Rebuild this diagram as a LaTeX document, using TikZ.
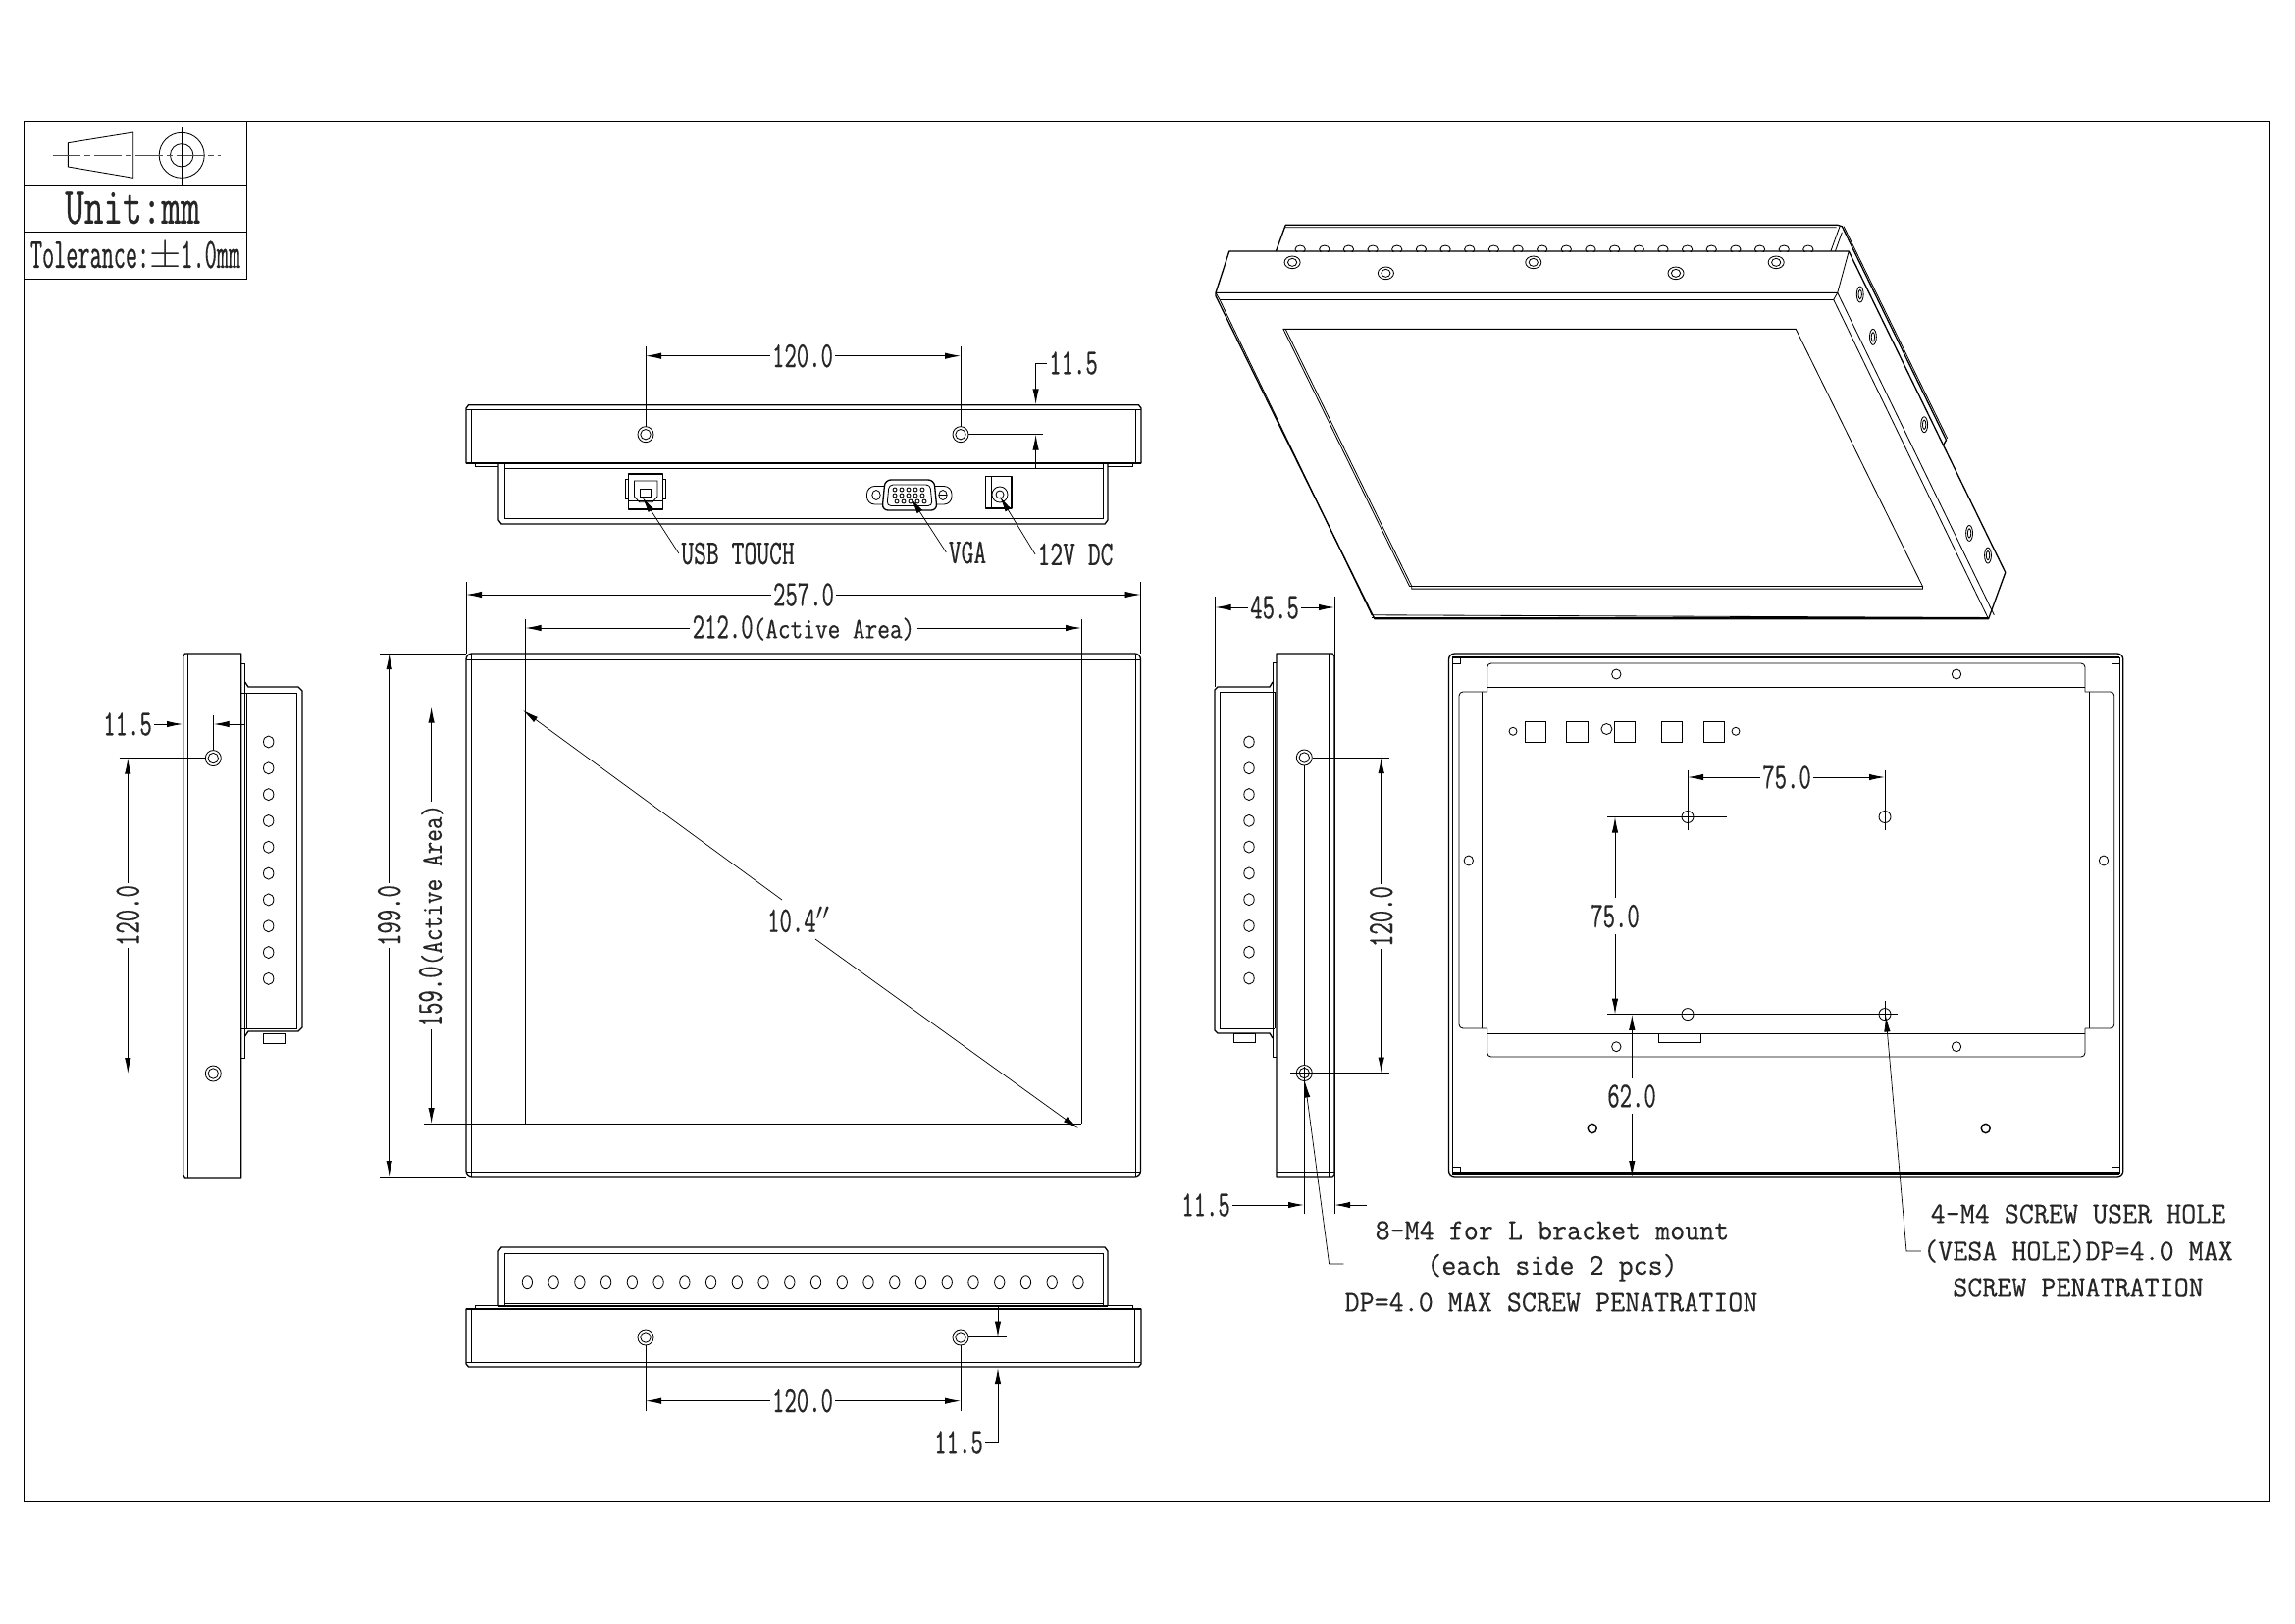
\documentclass[tikz,border=0pt]{standalone}
\usepackage{fontspec}
\usetikzlibrary{arrows.meta}
\newfontfamily\cfa[FakeStretch=.65,FakeBold=.35]{Latin Modern Mono}
\newfontfamily\cfb[FakeStretch=.82,FakeBold=.25]{Latin Modern Mono}
\newfontfamily\cfc[FakeStretch=.96,FakeBold=.25]{Latin Modern Mono}
\newfontfamily\cfd[FakeStretch=.72,FakeBold=.35]{Latin Modern Mono}
\newfontfamily\cfe[FakeStretch=.535,FakeBold=.35]{Latin Modern Mono}
\newfontfamily\cfu[FakeStretch=.70,FakeBold=.35]{Latin Modern Mono}
\newcommand\lbl{\cfa\fontsize{18.5}{20}\selectfont}
\newcommand\lblact{\cfb\fontsize{15}{18}\selectfont}
\newcommand\note{\cfc\fontsize{15.2}{16}\selectfont}
\newcommand\usb{\cfu\fontsize{17.8}{20}\selectfont}
\tikzset{
  ol/.style={draw=black,line width=.65pt,line join=round},
  tl/.style={draw=black,line width=.42pt},
  thick line/.style={draw=black,line width=1.3pt},
  dimline/.style={draw=black,line width=.45pt,-{Latex[length=8pt,width=3.2pt]}},
  extl/.style={draw=black,line width=.4pt},
  lab/.style={inner sep=1pt,text=black!85},
  cline/.style={draw=black!70,line width=.4pt,dash pattern=on 14pt off 2pt on 3pt off 2pt}
}
% name,x1,x2,y,xc,text
\newcommand\hdim[6]{%
  \coordinate (#1a) at (#2,#4); \coordinate (#1b) at (#3,#4);
  \node[lab] (#1) at (#5,#4) {#6};
  \draw[dimline] (#1.west |- #1a) -- (#1a);
  \draw[dimline] (#1.east |- #1b) -- (#1b);
}
% name,y1,y2,x,yc,text
\newcommand\vdim[6]{%
  \coordinate (#1a) at (#4,#2); \coordinate (#1b) at (#4,#3);
  \node[lab,rotate=90] (#1) at (#4,#5) {#6};
  \draw[dimline] (#1a |- #1.east) -- (#1a);
  \draw[dimline] (#1b |- #1.west) -- (#1b);
}
\newcommand\holeb[2]{\draw[tl] (#1,#2) circle [radius=8]; \draw[tl] (#1,#2) circle [radius=5.2];}
\newcommand\holes[2]{\draw[tl] (#1,#2) circle [x radius=5.2,y radius=6];}
\begin{document}
\begin{tikzpicture}[x=.5pt,y=-.5pt]
\useasboundingbox (0,0) rectangle (2339,1654);
\fill[white] (0,0) rectangle (2339,1654);
% frame and title block
\draw[tl] (24.5,123) rectangle (2313,1530);
\draw[tl] (24.5,123) rectangle (251.5,284.3);
\draw[tl] (24.5,189.3) -- (251.5,189.3);
\draw[tl] (24.5,236.3) -- (251.5,236.3);
\draw[tl] (69.4,145.7) -- (135.7,135) -- (135.7,181.3) -- (69.4,170) -- cycle;
\draw[tl] (185.2,158.3) circle [radius=23];
\draw[tl] (185.2,158.3) circle [radius=11.7];
\draw[cline] (53.6,158.3) -- (224.5,158.3);
\draw[extl] (185.2,129.3) -- (185.2,190);
\node[lab,inner sep=0pt] (unit) at (135,212) {\cfd\fontsize{26.5}{30}\selectfont Unit:mm};
\node[lab,inner sep=0pt] (tol) at (138,261) {\cfe\fontsize{22}{24}\selectfont Tolerance:$\pm$1.0mm};
% ===== top side view =====
\draw[ol] (475,472) -- (475,416) -- (477.5,412.7) -- (1160.5,412.7) -- (1163,416) -- (1163,472) -- cycle;
\draw[tl] (475,417.7) -- (1163,417.7);
\draw[tl] (480.7,417.7) -- (480.7,472) (1157,417.7) -- (1157,472);
\draw[thick line] (475,472) -- (1163,472);
\draw[tl] (484,472) -- (484,475.5) -- (508,475.5) (1154,472) -- (1154,475.5) -- (1129,475.5);
\draw[ol] (508,472) -- (508,530) -- (511,534) -- (1126,534) -- (1129,530) -- (1129,472);
\draw[tl] (514,472) -- (514,528.7) -- (1124,528.7) -- (1124,472);
\draw[tl] (514,477) -- (1124,477);
\holeb{658}{442.7} \holeb{979}{442.7}
\draw[extl] (658,352.7) -- (658,434.7) (979,352.7) -- (979,434.7);
\hdim{dtop}{658}{979}{362.7}{818}{\lbl 120.0}
\node[lab] (dtopr) at (1094,370) {\lbl 11.5};
\coordinate (dtopra) at (1055.6,412.3);
\draw[dimline] (dtopr.west) -- (1055.6,370) -- (dtopra);
\coordinate (dtoprb) at (1055.6,442.7);
\coordinate (dtoprc) at (1055.6,477);
\draw[dimline] (dtoprc) -- (dtoprb);
\draw[extl] (987,442.7) -- (1063,442.7);
% USB
\draw[ol] (640.7,483) rectangle (675.6,519);
\draw[tl] (640.7,488) -- (637,488) -- (637,508) -- (640.7,508) (675.6,488) -- (678.5,488) -- (678.5,508) -- (675.6,508);
\draw[tl] (640.7,510) -- (675.6,510);
\draw[tl] (646.5,490) -- (670,490) -- (670,506) -- (665,511.7) -- (651.5,511.7) -- (646.5,506) -- cycle;
\draw[tl] (652,498) rectangle (663.5,506);
\node[lab] (usbt) at (752,564) {\usb USB TOUCH};
\coordinate (usbtip) at (654.7,506.7);
\draw[dimline,line width=.35pt] (usbt.west) -- (usbtip);
% VGA
\draw[tl,rounded corners=4pt] (883.5,495.5) rectangle (970,514);
\draw[ol,fill=white,rounded corners=3pt] (902,489) -- (952,489) -- (955,520) -- (899,520) -- cycle;
\draw[tl] (893,504.5) circle [x radius=4.2,y radius=5];
\draw[tl] (961,504.5) circle [x radius=4.2,y radius=5];
\draw[tl] (957,504.5) -- (965,504.5);
\draw[tl,rounded corners=2pt] (906,494) -- (948,494) -- (950,515.5) -- (904,515.5) -- cycle;
\foreach \i in {0,1,2,3,4} {
  \draw[tl] (912+7*\i,499) circle [radius=2];
  \draw[tl] (912+7*\i,505) circle [radius=2];
  \draw[tl] (914+7*\i,511) circle [radius=2];
}
\node[lab] (vga) at (986,563) {\usb VGA};
\coordinate (vgatip) at (928.6,508);
\draw[dimline,line width=.35pt] (vga.west) -- (vgatip);
% 12V
\draw[ol] (1004.7,485.7) rectangle (1031,518);
\draw[tl] (1010,485.7) -- (1010,518);
\draw[tl] (1019,504) circle [radius=8];
\draw[tl] (1019,504) circle [radius=4];
\node[lab] (dc) at (1096,565) {\usb 12V DC};
\coordinate (dctip) at (1019,506);
\draw[dimline,line width=.35pt] (dc.west) -- (dctip);
% ===== front view =====
\draw[ol,rounded corners=3pt] (475,666) rectangle (1162.5,1199);
\draw[tl] (475,672.5) -- (1162.5,672.5) (475,1194.5) -- (1162.5,1194.5);
\draw[tl] (480.4,666) -- (480.4,1199) (1157,666) -- (1157,1199);
\draw[line width=.8pt] (432,720.6) -- (1102,720.6);
\draw[line width=.42pt] (432,1145) -- (1102,1145);
\draw[tl] (535.5,631) -- (535.5,1145) (1102,631) -- (1102,1145);
\draw[extl] (475,593) -- (475,666) (1162.5,593) -- (1162.5,666);
\draw[extl] (387,666) -- (475,666) (387,1199) -- (475,1199);
\hdim{d257}{475}{1162.5}{606}{819}{\lbl 257.0}
\hdim{d212}{535.5}{1102}{640}{819}{\lbl 212.0\lblact(Active Area)}
\vdim{d199}{666}{1199}{396.7}{933}{\lbl 199.0}
\vdim{d159}{720.6}{1145}{439.6}{933}{\lbl 159.0\lblact(Active Area)}
\node[lab] (diag) at (814,937) {\lbl 10.4$''$};
\coordinate (diaga) at (533,724);
\coordinate (diagb) at (1099,1150);
\draw[dimline,line width=.35pt] (797,917) -- (diaga);
\draw[dimline,line width=.35pt] (831,957) -- (diagb);
% ===== bottom side view =====
\draw[ol] (508,1331) -- (508,1275) -- (511,1271) -- (1126,1271) -- (1129,1275) -- (1129,1331);
\draw[tl] (514,1331) -- (514,1277) -- (1124,1277) -- (1124,1331);
\draw[tl] (514,1328) -- (1124,1328);
\draw[line width=.7pt] (508,1331) -- (1129,1331);
\draw[tl] (484,1334) -- (484,1330) -- (508,1330) (1154,1334) -- (1154,1330) -- (1129,1330);
\draw[ol] (475,1334) -- (475,1390) -- (477.5,1393) -- (1160.5,1393) -- (1163,1390) -- (1163,1334) -- cycle;
\draw[line width=1pt] (475,1334) -- (1163,1334);
\draw[tl] (475,1388) -- (1163,1388);
\draw[tl] (480.7,1334) -- (480.7,1388) (1156,1334) -- (1156,1388);
\foreach \i in {0,...,21} { \draw[tl] (537.4+26.74*\i,1306.7) circle [x radius=5.2,y radius=7]; }
\holeb{658}{1363} \holeb{979}{1363}
\draw[extl] (658,1371) -- (658,1438) (979,1371) -- (979,1438);
\hdim{dbot}{658}{979}{1427.7}{818}{\lbl 120.0}
\coordinate (dbotu) at (1017,1330);
\coordinate (dbotv) at (1017,1362.5);
\draw[dimline] (dbotu) -- (dbotv);
\draw[extl] (987,1362.7) -- (1026,1362.7);
\node[lab] (dbotr) at (977,1470) {\lbl 11.5};
\coordinate (dbotw) at (1017,1394);
\draw[dimline] (dbotr.east) -- (1017,1470) -- (dbotw);
% ===== left side view =====
\draw[ol] (188.5,666) -- (245.7,666) -- (245.7,1200) -- (188.5,1200) -- (186.7,1197) -- (186.7,669) -- cycle;
\draw[tl] (191,666) -- (191,1200);
\draw[tl] (245.7,676) -- (249.7,676) -- (249.7,1078) -- (245.7,1078);
\draw[tl] (245.7,706) -- (302.7,706) -- (302.7,1048);
\draw[tl] (245.7,1048) -- (302.7,1048);
\draw[ol] (249.7,695) -- (253,700) -- (304,700) -- (308,704) -- (308,1047) -- (304,1051) -- (253,1051) -- (249.7,1056);
\draw[tl] (251.3,706) -- (251.3,1048);
\foreach \i in {0,...,9} { \holes{273.7}{756+26.82*\i} }
\draw[tl] (268,1053.7) rectangle (290,1063);
\holeb{217.3}{772.6} \holeb{217.3}{1094}
\draw[extl] (121.7,772.6) -- (209,772.6) (121.7,1094) -- (209,1094);
\vdim{dl}{772.6}{1094}{130.3}{933}{\lbl 120.0}
\node[lab] (dlt) at (130,738) {\lbl 11.5};
\coordinate (dlta) at (186,738);
\draw[dimline] (dlt.east) -- (dlta);
\coordinate (dltb) at (249.3,738);
\coordinate (dltc) at (217.7,738);
\draw[dimline] (dltb) -- (dltc);
\draw[extl] (217.7,728.5) -- (217.7,764);
% ===== right side view =====
\draw[ol] (1301,666) -- (1358,666) -- (1360,669) -- (1360,1197) -- (1358,1199) -- (1301,1199) -- cycle;
\draw[tl] (1354,666) -- (1354,1199) (1301,1194) -- (1360,1194);
\draw[tl] (1301,675.7) -- (1297,675.7) -- (1297,1077) -- (1301,1077);
\draw[tl] (1299,705) -- (1243,705) -- (1243,1048) -- (1299,1048);
\draw[ol] (1297,695) -- (1294,700) -- (1241,700) -- (1238,703) -- (1238,1050) -- (1241,1053) -- (1294,1053) -- (1297,1058);
\draw[tl] (1299,705) -- (1299,1048);
\foreach \i in {0,...,9} { \holes{1273}{756+26.78*\i} }
\draw[tl] (1257,1053) rectangle (1279,1062);
\holeb{1329.3}{772} \holeb{1329.3}{1093.5}
\draw[tl] (1329.3,1087) -- (1329.3,1237) (1329.3,780) -- (1329.3,1085.5);
\draw[tl] (1315,1093.5) -- (1415.7,1093.5) (1338,772) -- (1415.7,772);
\draw[tl] (1360,608) -- (1360,1237);
\draw[tl] (1238.5,608) -- (1238.5,700);
\hdim{d45}{1238.5}{1360}{619}{1299}{\lbl 45.5}
\vdim{dr}{772}{1093.5}{1407.7}{934}{\lbl 120.0}
\node[lab] (dr115) at (1229,1228) {\lbl 11.5};
\coordinate (dr115a) at (1329,1228);
\draw[dimline] (dr115.east) -- (dr115a);
\coordinate (dr115b) at (1393,1228);
\coordinate (dr115c) at (1360,1228);
\draw[dimline] (dr115b) -- (dr115c);
\node[lab] (n1) at (1582,1254) {\note 8-M4 for L bracket mount};
\node[lab] (n2) at (1582,1291.7) {\note (each side 2 pcs)};
\node[lab] (n3) at (1581,1327) {\note DP=4.0 MAX SCREW PENATRATION};
\coordinate (ltip) at (1330,1102.5);
\coordinate (lfree) at (1369.3,1288);
\draw[dimline,line width=.35pt] (lfree) -- (1354.6,1288) -- (ltip);
% ===== back view =====
\draw[ol,rounded corners=3pt] (1476.5,666) rectangle (2163.8,1199);
\draw[tl] (1480,670) -- (1480,1195.5) (2160,670) -- (2160,1195.5);
\draw[thick line] (1480,670) -- (2160,670) (1480,1195.5) -- (2160,1195.5);
\draw[tl] (1480,670) rectangle (1488,676.5) (2160,670) rectangle (2152,676.5) (1480,1195.5) rectangle (1488,1189) (2160,1195.5) rectangle (2152,1189);
\draw[tl,rounded corners=2pt] (1515.7,705) -- (1515.7,676) -- (2125,676) -- (2125,705);
\draw[tl,rounded corners=2pt] (1515.7,1048) -- (1515.7,1077) -- (2125,1077) -- (2125,1048);
\draw[tl] (1515.7,700) -- (2125,700) (1515.7,1053.6) -- (2125,1053.6);
\draw[tl,rounded corners=2pt] (1515.7,705) -- (1487,705) -- (1487,1048) -- (1515.7,1048);
\draw[tl] (1510.5,705) -- (1510.5,1048);
\draw[tl,rounded corners=2pt] (2125,705) -- (2154.8,705) -- (2154.8,1048) -- (2125,1048);
\draw[tl] (2129.8,705) -- (2129.8,1048);
\foreach \p/\q in {1647.3/687,1994/687,1647.3/1066.7,1994/1066.7,1496.8/877,2144/877} {
  \draw[tl] (\p,\q) circle [x radius=4.7,y radius=5];
}
\draw[line width=.7pt] (1622.7,1150) circle [x radius=4.5,y radius=4.7];
\draw[line width=.7pt] (2023.7,1150) circle [x radius=4.5,y radius=4.7];
\foreach \p/\r in {1553.9/1575.6,1596.8/1618.5,1645/1666.6,1693/1714.7,1736/1757.6} {
  \draw[tl] (\p,735.5) rectangle (\r,756.5);
}
\draw[tl] (1542,745.3) circle [radius=4];
\draw[tl] (1637.4,743) circle [radius=5.5];
\draw[tl] (1769,745.3) circle [radius=4];
\draw[tl] (1690,1053.6) rectangle (1733.6,1062.7);
\foreach \p/\q in {1720/832.5,1921/832.5,1720/1033.6,1921/1033.6} {
  \draw[tl] (\p,\q) circle [radius=6];
}
\draw[extl] (1720,784.5) -- (1720,846) (1921,784.5) -- (1921,846) (1921,1020) -- (1921,1040);
\draw[extl] (1638,832.5) -- (1759.5,832.5) (1638,1033.6) -- (1934,1033.6);
\hdim{dv1}{1720}{1921}{792}{1821}{\lbl 75.0}
\coordinate (dv2a) at (1646,832.5);
\coordinate (dv2b) at (1646,1033.6);
\node[lab,fill=white,inner sep=3pt] (dv2) at (1646,933.6) {\lbl 75.0};
\draw[dimline] (dv2.north -| dv2a) -- (dv2a);
\draw[dimline] (dv2.south -| dv2b) -- (dv2b);
\coordinate (d62a) at (1663.3,1033.8);
\coordinate (d62b) at (1663.3,1199);
\node[lab,fill=white,inner sep=3pt] (d62) at (1663,1117) {\lbl 62.0};
\draw[dimline] (d62.north -| d62a) -- (d62a);
\draw[dimline] (d62.south -| d62b) -- (d62b);
\node[lab] (n4) at (2118,1237) {\note 4-M4 SCREW USER HOLE};
\node[lab] (n5) at (2118,1275) {\note (VESA HOLE)DP=4.0 MAX};
\node[lab] (n6) at (2118,1312) {\note SCREW PENATRATION};
\coordinate (vtip) at (1922,1035.5);
\draw[dimline,line width=.35pt] (n5.west) -- (1943,1275) -- (vtip);
% ===== 3D view =====
\begin{scope}[shift={(1200,200)},x=.287pt,y=-.1667pt]
\draw[ol] (175,168) -- (192,88) -- (1172,88) -- (1180,92) -- (1365,745) -- (1360,760);
\draw[tl] (192,95) -- (1170,95) (1160,168) -- (1176,92) (1168,168) -- (1180,110);
\draw[tl] (1183,92) -- (1367,740);
\begin{scope}
\clip (150,100) rectangle (1200,168);
\foreach \i in {0,...,21} { \draw[tl] (218+42.95*\i,162) circle [x radius=9,y radius=12]; }
\end{scope}
\draw[ol] (68,295) -- (92,168) -- (1192,168) -- (1470,1150) -- (1440,1292) -- (350,1292) -- (68,305) -- cycle;
\draw[tl] (68,295) -- (1172,295) -- (1192,168);
\draw[ol] (75,316) -- (1165,316);
\draw[tl] (68,295) -- (75,316) (1172,295) -- (1165,316);
\draw[tl] (75,316) -- (345,1280) -- (1430,1288) (1165,316) -- (1440,1292) (1172,295) -- (1450,1280);
\draw[tl] (345,1288) -- (1440,1288);
\draw[tl] (188,406) -- (1098,406) -- (1323,1192) -- (412,1192) -- cycle;
\draw[tl] (192,406) -- (416,1192) -- (416,1200) -- (1323,1200) -- (1323,1192);
\foreach \p/\q in {204/202,370/235,632/202,885/235,1063/202} {
  \draw[tl] (\p,\q) circle [x radius=14,y radius=19];
  \draw[tl] (\p,\q) circle [x radius=8,y radius=12];
}
\foreach \p/\q in {1212/300,1235/430,1326/698,1406/1030,1439/1098} {
  \draw[tl] (\p,\q) circle [x radius=6,y radius=24];
  \draw[tl] (\p,\q) circle [x radius=3,y radius=14];
}
\end{scope}
\end{tikzpicture}
\end{document}
